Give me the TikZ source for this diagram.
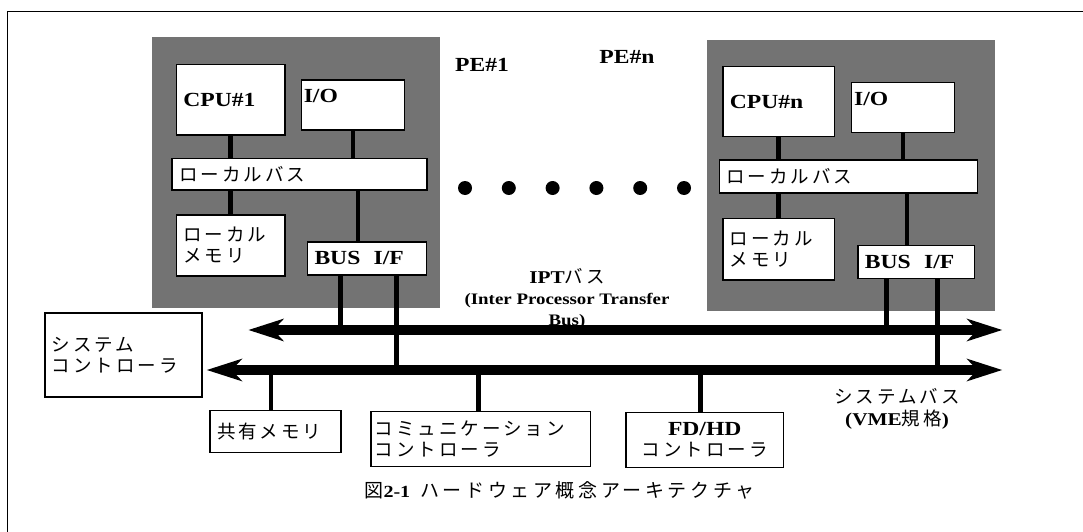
\documentclass[tikz,border=0pt]{standalone}
\usepackage{fontspec}
\setmainfont{Liberation Serif}[FakeStretch=1.18]
\newfontfamily\jpfont{Noto Sans CJK JP}[LetterSpace=16]
\newfontfamily\jpcapfont{Noto Sans CJK JP}[LetterSpace=19]
\usetikzlibrary{arrows.meta,positioning}
\newcommand{\jsize}{\fontsize{18.5}{21}\selectfont\mdseries\jpfont}
\newcommand{\lsize}{\fontsize{20}{22}\selectfont\rmfamily\bfseries}
\tikzset{
	>=Latex,
	pebox/.style={
		fill=black!55,
		inner sep=0pt
	},
	unit/.style={
		draw,
		fill=white,
		line width=1.5pt,
		inner xsep=7pt,
		inner ysep=0pt,
		align=left,
		font=\lsize
	},
	link/.style={
		line width=4.5pt
	},
	bus/.style={
		{Stealth[length=35pt,width=22pt,inset=10pt]}-{Stealth[length=35pt,width=22pt,inset=10pt]},
		line width=9.5pt
	},
	dot/.style={
		circle,
		fill=black,
		inner sep=0pt,
		minimum size=14pt
	}
}
\begin{document}
\begin{tikzpicture}[x=1pt,y=-1pt]
	\useasboundingbox (0,0) rectangle (1083,532);
	
	% Frame
	\draw[line width=1.2pt] (7.5,532) -- (7.5,11.5) -- (1083,11.5);
	
	% Processor elements
	\node[pebox,minimum width=288.5pt,minimum height=270.7pt] (pe1) at (295.75,172.65) {};
	\node[pebox,minimum width=287.8pt,minimum height=271pt] (pen) at (851.1,175.5) {};
	\node[font=\lsize] (pe1lab) at (482,65) {PE\#1};
	\node[font=\lsize] (penlab) at (627,57) {PE\#n};
	
	% PE#1
	\node[unit,text width=94.8pt,minimum height=70.7pt] (cpu1) at (230.7,99.65) {CPU\#1};
	\node[unit,minimum width=103.3pt,minimum height=50pt] (io1) at (353,105) {};
	\node[font=\lsize,inner sep=0pt,below right=10pt and 3pt of io1.north west] {I/O};
	\node[unit,font=\jsize,text width=240.8pt,minimum height=31.7pt] (lbus1) at (299.6,174.2) {ローカルバス};
	\node[unit,font=\jsize,text width=94.8pt,minimum height=61pt] (lmem1) at (230.7,245.5) {ローカル\\メモリ};
	\node[unit,text width=104.8pt,minimum height=33.3pt] (bif1) at (366.9,258.4) {BUS\ \ I/F};
	
	% PE#n
	\node[unit,text width=97.5pt,minimum height=70pt] (cpun) at (778.6,101.7) {CPU\#n};
	\node[unit,minimum width=102.7pt,minimum height=50pt] (ion) at (903,107.7) {};
	\node[font=\lsize,inner sep=0pt,below right=10pt and 3pt of ion.north west] {I/O};
	\node[unit,font=\jsize,text width=243.9pt,minimum height=33pt] (lbusn) at (848.4,176.5) {ローカルバス};
	\node[unit,font=\jsize,text width=97.5pt,minimum height=61.7pt] (lmemn) at (778.6,249.2) {ローカル\\メモリ};
	\node[unit,text width=102.7pt,minimum height=32.6pt] (bifn) at (916.3,262) {BUS\ \ I/F};
	
	% Local bus links
	\draw[link] (cpu1.south) -- (cpu1.south |- lbus1.north);
	\draw[link] (io1.south) -- (io1.south |- lbus1.north);
	\draw[link] (lmem1.north) -- (lmem1.north |- lbus1.south);
	\draw[link] ([xshift=-8.8pt]bif1.north) -- ([xshift=-8.8pt]bif1.north |- lbus1.south);
	\draw[link] (cpun.south) -- (cpun.south |- lbusn.north);
	\draw[link] (ion.south) -- (ion.south |- lbusn.north);
	\draw[link] (lmemn.north) -- (lmemn.north |- lbusn.south);
	\draw[link] ([xshift=-9.3pt]bifn.north) -- ([xshift=-9.3pt]bifn.north |- lbusn.south);
	
	\foreach \i in {0,...,5}
		\node[dot] (dot\i) at ({465+43.8*\i},188) {};
	
	% Devices
	\node[unit,font=\jsize,text width=143.2pt,minimum height=83.7pt] (sysctl) at (123.4,354.9) {システム\\コントローラ};
	\node[unit,font=\jsize,text width=117pt,minimum height=41.6pt] (shmem) at (275.5,431.5) {共有メモリ};
	\node[unit,font=\jsize,inner xsep=4pt,text width=211.3pt,minimum height=55pt] (comm) at (480.6,439.2) {コミュニケーション\\コントローラ};
	\node[unit,font=\jsize,align=center,text width=143.5pt,minimum height=55pt] (fdhd) at (704.7,440.2) {{\lsize FD/HD}\\コントローラ};
	
	% Buses
	\coordinate (iptL) at (248.3,330);
	\coordinate (iptR) at (1002.3,330);
	\coordinate (sysL) at (206.7,370);
	\coordinate (sysR) at (1002.3,370);
	\draw[bus] (iptL) -- (iptR);
	\draw[bus] (sysL) -- (sysR);
	
	\draw[link] ([xshift=-26.2pt]bif1.south) -- ([xshift=-26.2pt]bif1.south |- iptL);
	\draw[link] ([xshift=29.8pt]bif1.south) -- ([xshift=29.8pt]bif1.south |- sysL);
	\draw[link] ([xshift=-30pt]bifn.south) -- ([xshift=-30pt]bifn.south |- iptL);
	\draw[link] ([xshift=21.2pt]bifn.south) -- ([xshift=21.2pt]bifn.south |- sysL);
	\draw[link] ([xshift=-4.5pt]shmem.north) -- ([xshift=-4.5pt]shmem.north |- sysL);
	\draw[link] ([xshift=-2pt]comm.north) -- ([xshift=-2pt]comm.north |- sysL);
	\draw[link] ([xshift=-4.4pt]fdhd.north) -- ([xshift=-4.4pt]fdhd.north |- sysL);
	
	% Annotations
	\node[align=center,font=\fontsize{16}{21}\selectfont\bfseries] (iptlab) at (567,299)
	{{\fontsize{18}{21}\selectfont IPT}{\jsize バス}\\(Inter Processor Transfer\\Bus)};
	\node[align=center,font=\fontsize{18}{22}\selectfont\bfseries] (syslab) at (897,409)
	{{\jsize システムバス}\\(VME{\jsize 規格})};
	\node[anchor=west,font=\fontsize{19}{20}\selectfont] (caption) at (361,490)
	{{\jpcapfont 図}{\fontsize{17}{20}\selectfont\bfseries 2-1}\hspace{10pt}{\jpcapfont ハードウェア概念アーキテクチャ}};
	
\end{tikzpicture}
\end{document}
